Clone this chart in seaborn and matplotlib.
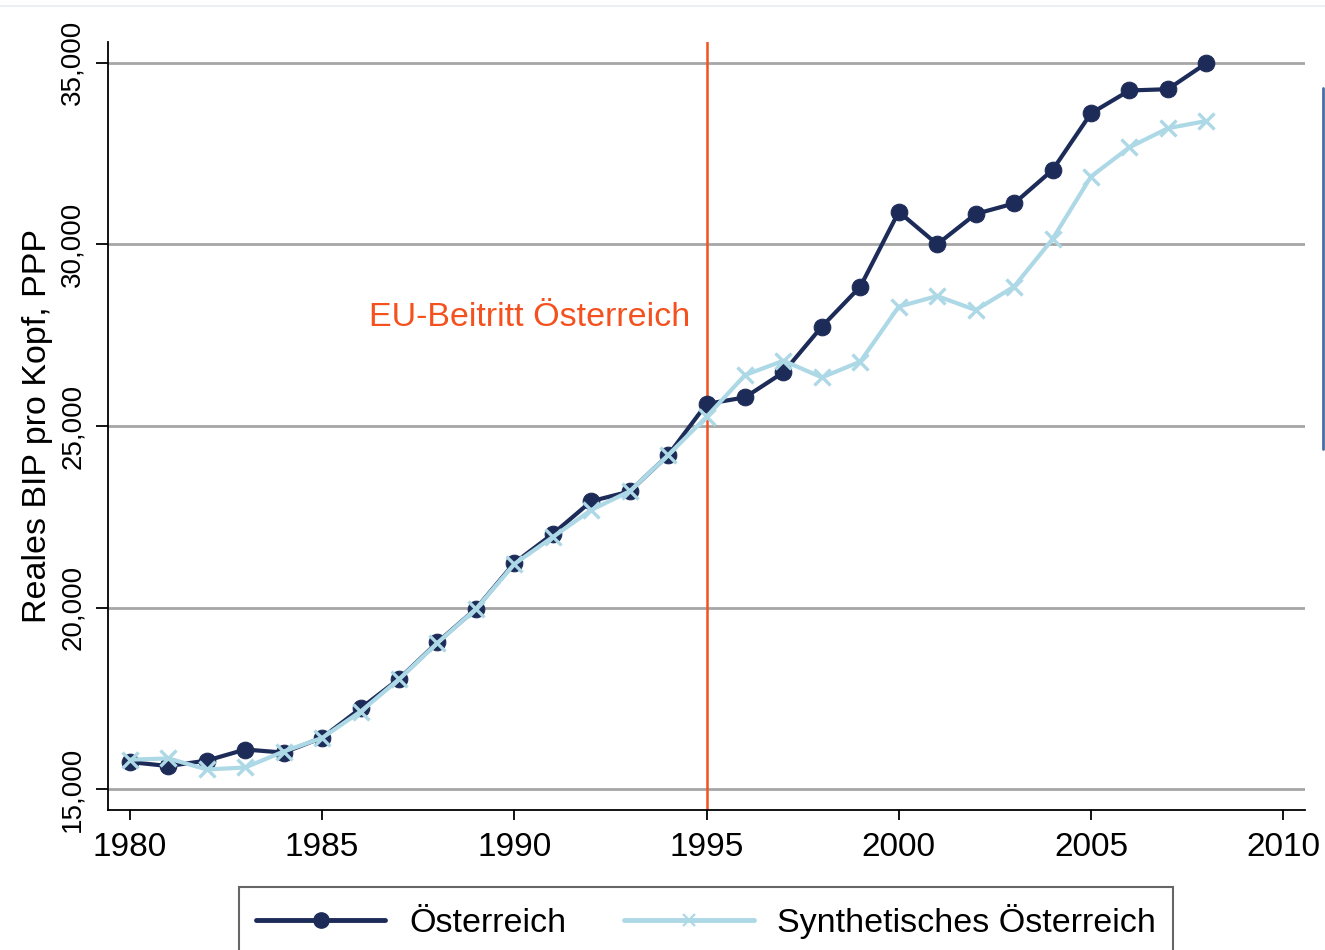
import numpy as np
import pandas as pd
import seaborn as sns
import matplotlib.pyplot as plt
from matplotlib.lines import Line2D

years = list(range(1980, 2009))
oesterreich = [15750, 15640, 15790, 16095, 16010, 16420, 17225, 18040, 19045, 19970,
               21230, 22030, 22930, 23200, 24200, 25610, 25790, 26480, 27740, 28840,
               30900, 30005, 30840, 31130, 32050, 33610, 34240, 34275, 34990]
synthetisch = [15815, 15850, 15545, 15600, 16040, 16415, 17140, 18030, 19030, 19965,
               21200, 21945, 22690, 23205, 24200, 25256, 26405, 26800, 26340, 26775,
               28290, 28580, 28195, 28840, 30150, 31870, 32675, 33200, 33400]
yticks = [15000, 20000, 25000, 30000, 35000]
xticks = [1980, 1985, 1990, 1995, 2000, 2005, 2010]
beitritt = 1995

df = pd.DataFrame({'Jahr': years, 'Oesterreich': oesterreich, 'Synth': synthetisch})

dark = '#1c2b58'
light = '#add8e6'
red = '#f4511e'

sns.set_style('white')
plt.rcParams['font.family'] = ['Liberation Sans', 'DejaVu Sans']

fig = plt.figure(figsize=(13.25, 9.5), dpi=100)
ax = fig.add_axes([0.0815, 0.147, 0.9035, 0.809])

for y in yticks:
    ax.axhline(y, color='#a6a6a6', lw=2, zorder=0)

sns.lineplot(data=df, x='Jahr', y='Oesterreich', ax=ax, color=dark, lw=3,
             marker='o', markersize=12, markeredgecolor=dark, zorder=3)
sns.lineplot(data=df, x='Jahr', y='Synth', ax=ax, color=light, lw=3,
             marker='x', markersize=11, markeredgewidth=2.4, markeredgecolor=light, zorder=4)

ax.axvline(beitritt, color=red, lw=1.8, zorder=2)
ax.text(beitritt - 0.42, 27980, 'EU-Beitritt Österreich', color=red, fontsize=24.5,
        ha='right', va='center')

ax.set_xlim(1979.43, 2010.57)
ax.set_ylim(14420, 35580)
ax.set_xticks(xticks)
ax.set_yticks(yticks)
ax.set_yticklabels([f'{v:,}' for v in yticks], rotation=90, va='center', fontsize=20)
ax.set_xticklabels([str(v) for v in xticks], fontsize=24)
ax.tick_params(axis='y', direction='out', length=9, width=1.3, pad=7, left=True,
               color='black', labelcolor='black')
ax.tick_params(axis='x', direction='out', length=7.5, width=1.3, pad=8, bottom=True,
               color='black', labelcolor='black')
ax.set_xlabel('')
ax.set_ylabel('Reales BIP pro Kopf, PPP', fontsize=24.5, labelpad=5, color='black')

sns.despine(ax=ax)
for s in ['left', 'bottom']:
    ax.spines[s].set_color('black')
    ax.spines[s].set_linewidth(1.3)

handles = [Line2D([], [], color=dark, lw=3.5, marker='o', markersize=11),
           Line2D([], [], color=light, lw=3.5, marker='x', markersize=9, markeredgewidth=1.6)]
leg = fig.legend(handles, ['Österreich', 'Synthetisches Österreich'], ncol=2,
                 loc='upper center', bbox_to_anchor=(0.533, 0.066), fontsize=24.5,
                 frameon=True, fancybox=False, handlelength=3.8, columnspacing=1.7,
                 handletextpad=0.7, borderpad=0.5, borderaxespad=0)
leg.get_frame().set_edgecolor('#404040')
leg.get_frame().set_linewidth(1.5)
for t in leg.get_texts():
    t.set_color('black')

fig.add_artist(Line2D([0, 1], [0.994, 0.994], color='#e6ecf0', lw=1.2))
fig.add_artist(Line2D([0.9985, 0.9985], [0.527, 0.907], color='#4a6fa5', lw=2))

fig.savefig('out.png', dpi=100)
